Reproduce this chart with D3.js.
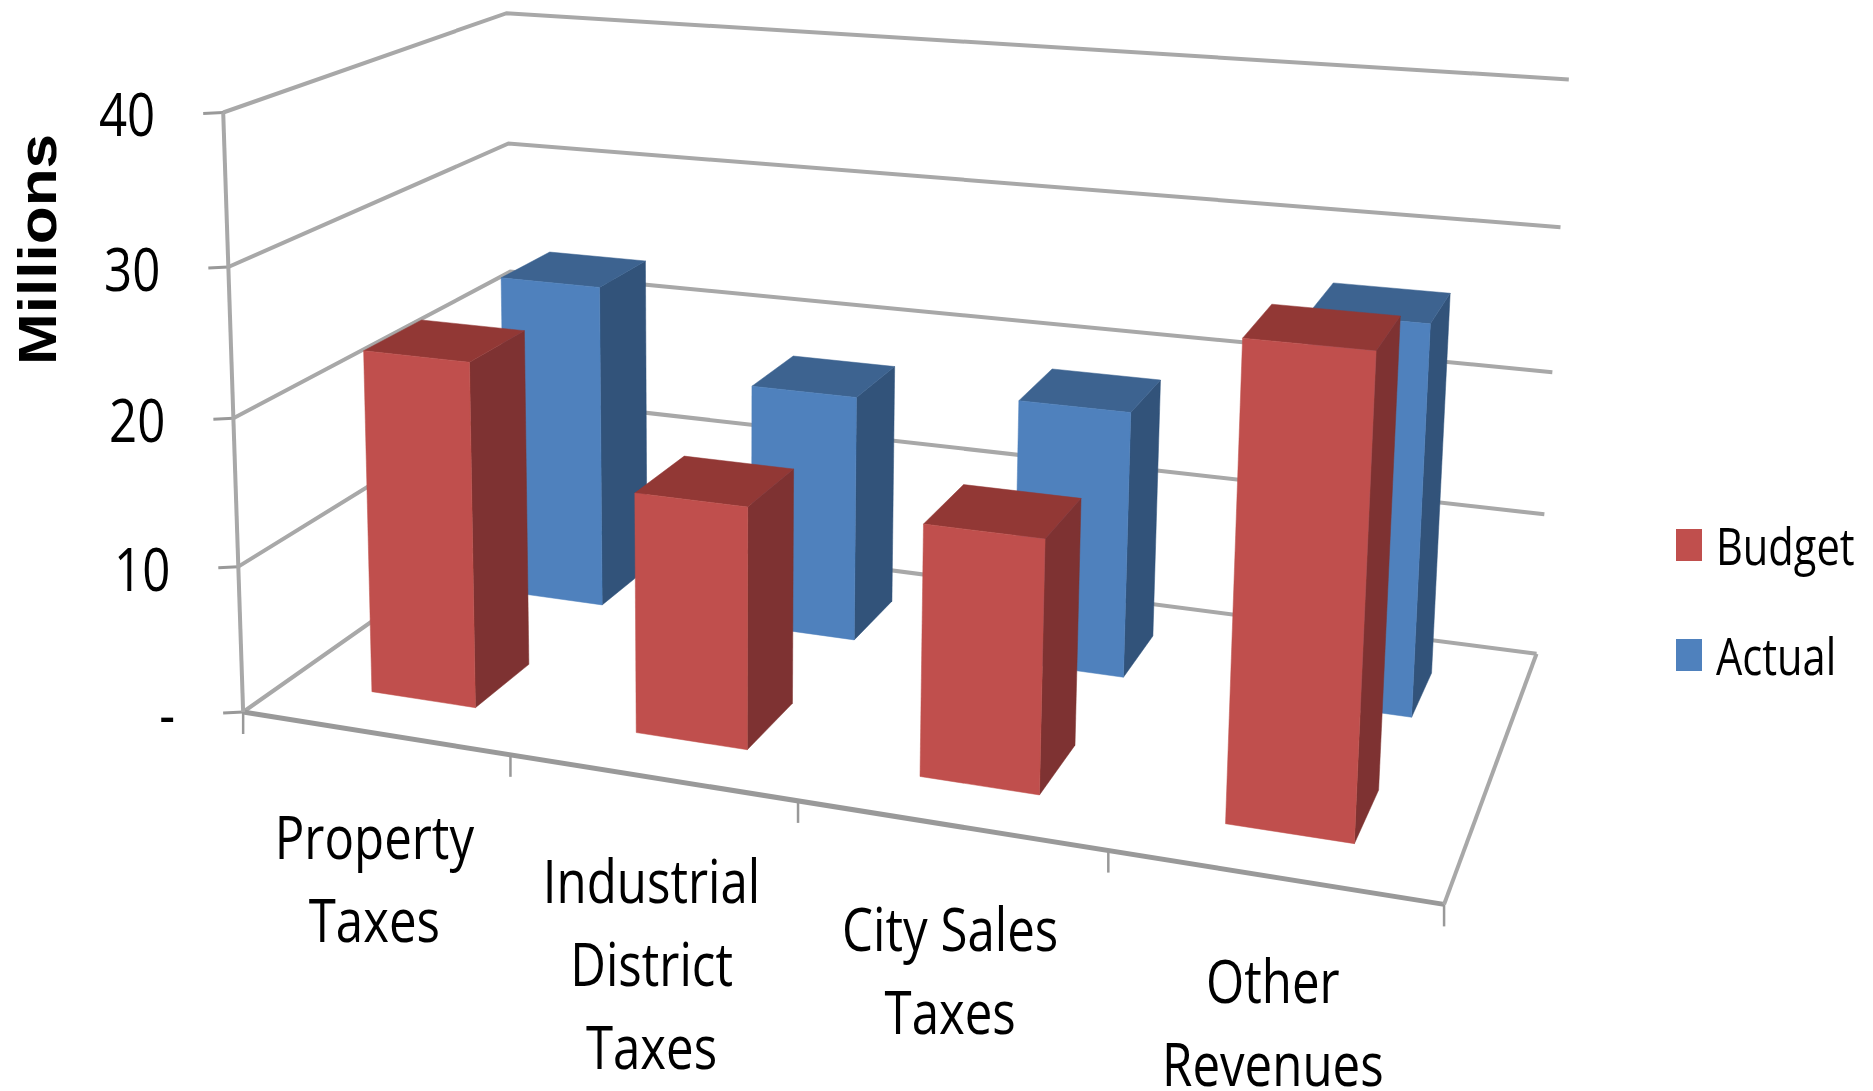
<!DOCTYPE html>
<html>
<head>
<meta charset="utf-8">
<style>
html,body{margin:0;padding:0;background:#fff;overflow:hidden}
text{fill:#000;font-family:"Open Sans",sans-serif}
</style>
<script src="https://d3js.org/d3.v7.min.js"></script>
</head>
<body>
<svg id="chart" width="1873" height="1091">
<defs><filter id="soft" filterUnits="userSpaceOnUse" x="0" y="0" width="1873" height="1091"><feGaussianBlur stdDeviation="0.7"/></filter></defs>
</svg>
<script>
var categories = [["Property","Taxes"],["Industrial","District","Taxes"],["City Sales","Taxes"],["Other","Revenues"]];
var seriesNames = ["Budget","Actual"];
var budget = [23.5,16.1,16.4,30];
var actual = [23.5,17.5,18.5,26.4];
var yTicks = [0,10,20,30,40];
var yTickLabels = ["-","10","20","30","40"];

var colors = {
    Budget:{front:"#C0504D",side:"#7E3230",top:"#923936"},
    Actual:{front:"#4F81BD",side:"#30527A",top:"#3C6390"}
};
var gridColor = "#a8a8a8";

var svg = d3.select("#chart").append("g").attr("filter","url(#soft)");

// screen position of the box corners, u along categories, v into the page, w up
var corners = [
    [0,0,0,248,713],[0,0,1,220,111],[0,1,1,510,13],[0,1,0,510,521],
    [1,1,1,1568,81],[1,1,0,1538,653],[1,0,0,1447,902],
    [0.25,0,0,511,755],[0.5,0,0,797,803],[0.75,0,0,1104,851]
];

// least squares fit of the perspective camera
function solveCamera(pts){
    var rows = [], rhs = [];
    pts.forEach(function(p){
        var x = p[3]/1000, y = p[4]/1000;
        rows.push([p[0],p[1],p[2],1,0,0,0,0,-x*p[0],-x*p[1],-x*p[2]]); rhs.push(x);
        rows.push([0,0,0,0,p[0],p[1],p[2],1,-y*p[0],-y*p[1],-y*p[2]]); rhs.push(y);
    });
    var n = 11, m = [];
    for (var i=0;i<n;i++){
        m.push([]);
        for (var j=0;j<n;j++) m[i].push(d3.sum(rows,function(r){return r[i]*r[j]}));
        m[i].push(d3.sum(rows,function(r,k){return r[i]*rhs[k]}));
    }
    for (i=0;i<n;i++){
        var best = i;
        for (j=i+1;j<n;j++) if (Math.abs(m[j][i])>Math.abs(m[best][i])) best=j;
        var t = m[i]; m[i]=m[best]; m[best]=t;
        for (j=0;j<n;j++){
            if (j==i) continue;
            var f = m[j][i]/m[i][i];
            for (var k=i;k<=n;k++) m[j][k]-=f*m[i][k];
        }
    }
    return m.map(function(r,i){return r[n]/r[i]});
}
var cam = solveCamera(corners);

function project(u,v,w){
    var d = cam[8]*u+cam[9]*v+cam[10]*w+1;
    return [1000*(cam[0]*u+cam[1]*v+cam[2]*w+cam[3])/d, 1000*(cam[4]*u+cam[5]*v+cam[6]*w+cam[7])/d];
}

var xScale = d3.scaleBand().domain(d3.range(categories.length)).range([0.006,0.995]).paddingInner(0.6).paddingOuter(0.3);
var zScale = d3.scaleBand().domain(seriesNames).range([0,1]).paddingInner(0.6).paddingOuter(0.3);
var yScale = d3.scaleLinear().domain([0,40]).range([0,1]);
var line = d3.line();

var grid = svg.append("g").attr("fill","none").attr("stroke",gridColor);

function seg(a,b,sw,col){
    grid.append("path").attr("d",line([a,b])).attr("stroke-width",sw||4).attr("stroke",col||gridColor);
}

// the label text is squeezed sideways, it comes from a condensed font
function label(x,y,size,anchor,txt,sx){
    svg.append("text").attr("transform","translate("+x+","+y+") scale("+sx+",1)")
        .attr("text-anchor",anchor).attr("font-size",size).text(txt);
}

// walls
yTicks.forEach(function(t,i){
    var w = yScale(t);
    grid.append("path").attr("d",line([project(0,0,w),project(0,1,w),project(1,1,w)])).attr("stroke-width",4);
    var p = project(0,0,w);
    seg(p,[p[0]-20,p[1]+1],3,"#999");
    label(p[0]-68,p[1]+24,60,"end",yTickLabels[i],0.82);
});
// floor and axis
seg(project(0,0,0),project(1,0,0),5,"#999");
seg(project(1,0,0),project(1,1,0),4);
seg(project(0,0,0),project(0,0,1),4);
d3.range(categories.length+1).forEach(function(i){
    var p = project(i/categories.length,0,0);
    seg(p,[p[0],p[1]+22],2.5,"#999");
});

// bars, back row first
function face(color,pts){
    svg.append("path").attr("d",line(pts)+"Z").attr("fill",color).attr("stroke",color).attr("stroke-width",0.5);
}
[["Actual",actual],["Budget",budget]].forEach(function(s){
    var c = colors[s[0]];
    var v0 = zScale(s[0]), v1 = v0+zScale.bandwidth();
    s[1].forEach(function(val,i){
        var u0 = xScale(i), u1 = u0+xScale.bandwidth(), w = yScale(val);
        face(c.side,[project(u1,v0,0),project(u1,v1,0),project(u1,v1,w),project(u1,v0,w)]);
        face(c.top,[project(u0,v0,w),project(u1,v0,w),project(u1,v1,w),project(u0,v1,w)]);
        face(c.front,[project(u0,v0,0),project(u1,v0,0),project(u1,v0,w),project(u0,v0,w)]);
    });
});

// category labels
categories.forEach(function(lines,i){
    var p = project((i+0.5)/categories.length,0,0);
    lines.forEach(function(txt,j){
        label(p[0],p[1]+126+j*83,60,"middle",txt,0.82);
    });
});

// axis title
svg.append("text").attr("transform","translate(56,365) rotate(-90) scale(1.15,1)")
    .attr("font-size",54).attr("font-weight","bold")
    .style("font-family","'Liberation Sans',sans-serif").text("Millions");

// legend
var legendY = d3.scalePoint().domain(seriesNames).range([545,655]);
seriesNames.forEach(function(name){
    svg.append("rect").attr("x",1676).attr("y",legendY(name)-16).attr("width",26).attr("height",32)
        .attr("fill",colors[name].front);
    label(1716,legendY(name)+20,52,"start",name,0.8);
});
</script>
</body>
</html>
